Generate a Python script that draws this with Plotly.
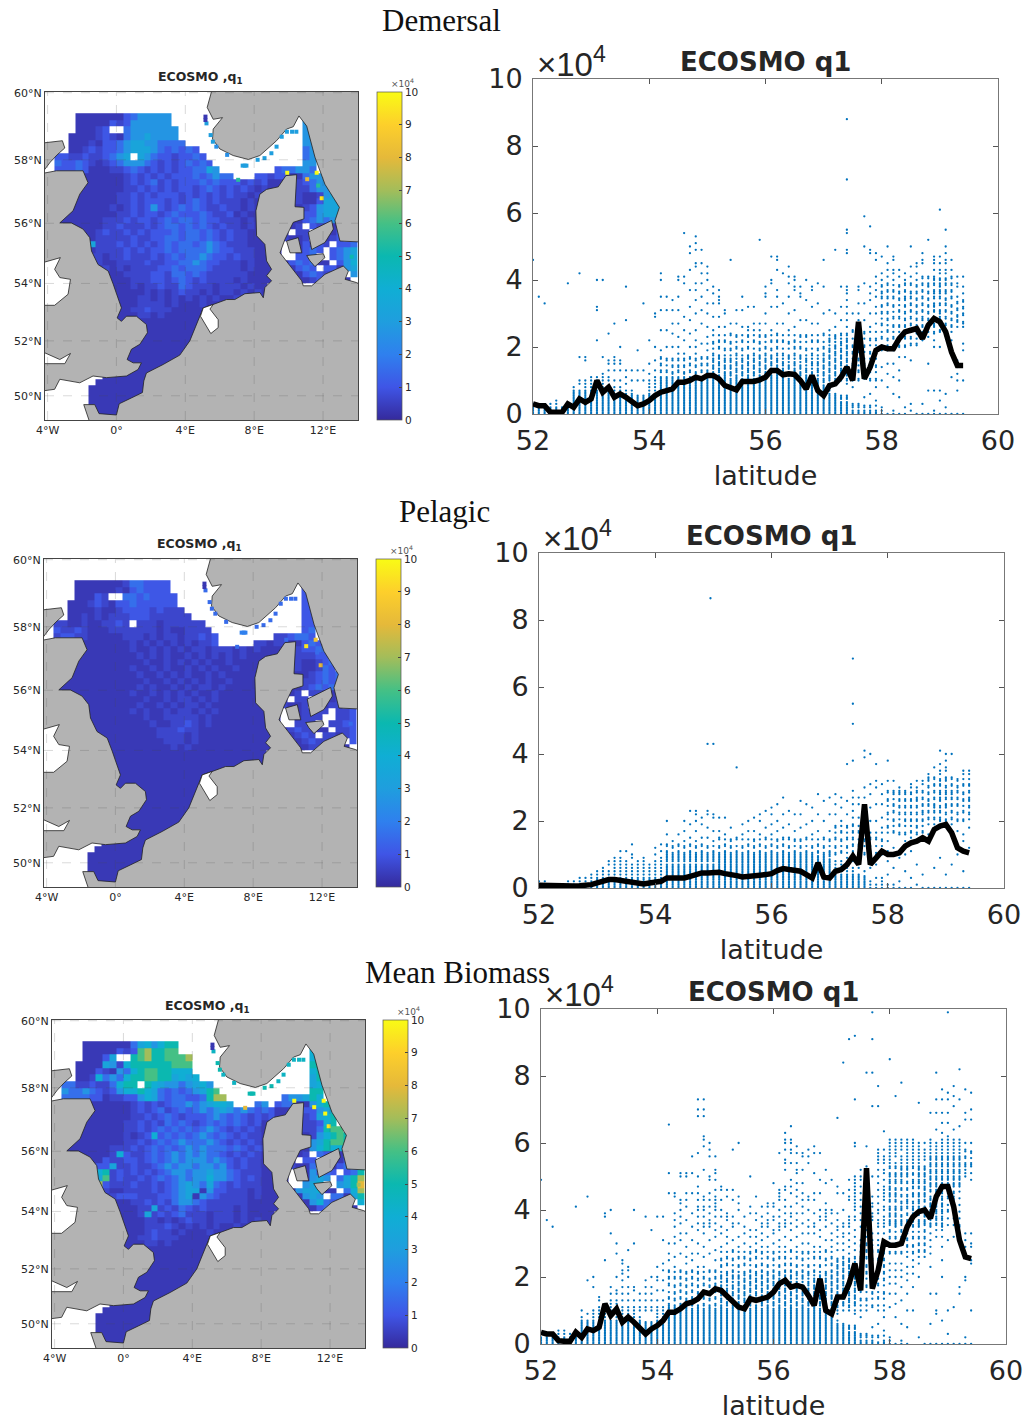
import math
import plotly.graph_objects as go

W, H = 1027, 1421

# ---------- colour levels ----------
HEAT_LEVELS = {'a':.35,'b':.65,'c':1.05,'d':1.6,'e':2.7,'f':3.4,'g':4,'h':5,'i':6,'j':7,'k':8,'l':9,'m':10}
PARULA = [[0,'#352a9c'],[.1,'#3f55e6'],[.2,'#2f80ee'],[.3,'#1f9ede'],[.4,'#10aed4'],[.5,'#0bb8b0'],
          [.6,'#45c085'],[.7,'#a3bd5a'],[.8,'#e5b93a'],[.9,'#fdcf2b'],[1,'#f9fb15']]

# grid of the map cells
CELL_LON_EDGES = [-3.6,-3.2,-2.8,-2.4,-2.0,-1.6,-1.2,-.8,-.4,0,.4,.8,1.2,1.6,2,2.4,2.8,3.2,3.6,4,4.4,4.8,5.2,5.6,6,6.4,6.8,7.2,7.6,8,8.4,8.8,9.2,9.6,10,10.4,10.8,11.2,11.6,12,12.4,12.8,13.2,13.6,14.0]
CELL_LAT_EDGES = [59.4,59.2,59,58.8,58.6,58.4,58.2,58,57.8,57.6,57.4,57.2,57,56.8,56.6,56.4,56.2,56,55.8,55.6,55.4,55.2,55,54.8,54.6,54.4,54.2,54,53.8,53.6,53.4,53.2,53,52.8,52.6,52.4,52.2,52,51.8,51.6,51.4,51.2,51,50.8,50.6,50.4,50.2,50,49.8,49.6,49.4,49.2]

SOUTH_ROWS = ["   aaaaaaaaaaaaaaaaaaaaaaaaaaa"]*9
CHANNEL_ROWS = ["     aaaaaaaaaaaaaaaaaa","       aaaaaaaaaaaaaaaa","      aaaaaaaaaaa"]+["     aaaaaaaaaaa"]*6

DEM_WEST = ["   aaaaaaacdeeeee","   aaaaacbceeeeee","   aaabc  deeeeeee","  aaaabcbadeefeeee","  aaabaccdeffeedddd",
"  aabcbccdefffedcdcdc","ccbbcbbcdef fedccbccdc","dccdcbabcdeeedcbcbcdcdc","cccdcaaabbcdcbcbcbccddfe",
"aaaaaaaaaabcbcbcbcccdcdedd   cc","aaaaaaaaaabcbcdbcbcccdcdcccbcbc","aaaaaaaaaabbcbcbcbccbcdcbcbcbab","aaaaaaaaabbcbcbcccbcbcbcbcbbaba",
"aaaaaaaaabbcbcccbcbcdcbcbbbabaa","aaaaaaaababcbcecbcdcdcbbcbbabaa","aaaaaaaaabbcbccbcdcccdcbbcabaaa","aaaaaaabbbcbccbcdcddcdccbbbabaa",
"aaaaaaabbcbbbcbcddcdcdcbcbbabaa","aaaaaabcbbcbcbcccdcddcdcbcbbaaa","aaaaaabbbbbcbbccddcddcdcbcbbaaa","aaaaafbbbcbcbcbcdcddcdedcbbbaaa",
"aaaaaabbbbcbcbccdcddddedccbbbaa","   aabbabbcbbbcbcdcddedccbcbbaa","   aacbaabbbbcbbccddedccbbbabaa","   aaaabababbbbccdcdddcbbbbabaa",
"   aaaaaaabbbbccbddcdcbbbbbbaaa","   aaaaaaaabbbccbcdcbcbbbbabaaa","   aaaaaaaababbcbbdcbbbabbbabaa","   aaaaaaaaaabababcbbababbababa",
"   aaaaaaaaabbabababababaababab","   aaaaaaaaabbbbabaaabaaaaaaaaa","   aaaaaaaabbcbbbaaaaaaaaaaaaaa","   aaaaaaaaabbabaaaaaaaaaaaaaaa"] + SOUTH_ROWS + CHANNEL_ROWS
DEM_BALTIC = ["","     e","     ee","     ee","     ee","     de","     de","     ee"," cddeed","bccaadee","aaaabcdee","aaaabbdee","aaaabaabef",
"aaaabaacfff","aaaaabcefff","aaaaaccefff","aaaaacdeded","aaaab cbaac","aaa bb aaacc","aabaab aabc","aa aacbcb ccd","aa  acdc cdef","aa  ccd  cdef",
"aaacdcdaa ceg","aaaacdc ccaef","aaaaacdcba  e","aaaaaabcaaaa "]

PEL_WEST = ["   aaaaaaabddcccc","   aaaaaabacdcccc","   aaacb  ddcdcccc","  aaabcbaccdcccccc","  aaaabaabccccbcbbb",
"  aabababbbcccbbbbbb","bbaabaabbcb bbbabbbbbb","cbbcbaaabbbbbbbabaabbbb","bccbbaaaaabbbababbabbcbc",
"aaaaaaaaaaababababababbc     bb","aaaaaaaaaaabaababababbabbbababa","aaaaaaaaaaaabababaabababababaaa","aaaaaaaaaaaaabaababababaabaaaaa",
"aaaaaaaaaaabaababaabababaabaaaa","aaaaaaaaaaaabaabababaababaaaaaa","aaaaaaaaaaaaabaababababaabaaaaa","aaaaaaaaaaaababaabababbabaaaaaa",
"aaaaaaaaaaabaababababaabaaaaaaa","aaaaaaaaaaaaabaababbababaaaaaaa","aaaaaaaaaaaabaabababbabaaaaaaaa","aaaaaaaaaaababaababbababaaaaaaa",
"aaaaaaaaaaaaabaabbbbbabaaaaaaaa","   aaaaaaaaaaabaabbcbabaaaaaaaa","   aaaaaaaaaaaabbbcbbaaaaaaaaaa","   aaaaaaaaaaaabbbbabaaaaaaaaaa",
"   aaaaaaaaaaaaabbbabaaaaaaaaaa","   aaaaaaaaaaaaaababaaaaaaaaaaa"] + ["   aaaaaaaaaaaaaaaaaaaaaaaaaaaa"]*6 + SOUTH_ROWS + CHANNEL_ROWS
PEL_BALTIC = ["","     c","     cc","     cc","     cc","     cc","     cc","     cd"," bbcddc","abbaacdc","aaaabccdd","aaaabbbcc","aaaabaabcd",
"aaaabaabdc","aaaaaabcdcd","aaaaabbcdcd","aaaaabcdcdc","aaaab bbaac","aaa bb aaabb","aabaab aabb","aa aabbbb bbc","aa  abbb  bbc","aa  bbb  bbcc",
"aaabcbbaa bbc","aaaabcb bbabc","aaaaabcbba  c","aaaaaabbaaaa "]

MEAN_WEST = ["   aaaaaaadfgeghh","   aaaaacbcijhhii","   aaacf  hijhhiiij","  aaaafebghhhhhhiii","  aaacbaedghiihhggg",
"  aabgdedghhiihhfgfg","ddbbcbbdghh hgfeedefge","eddedcbcegghgfdcdcdefhi","ddddccabbccegfdcddccdhjj",
"aaaaaaaaaabcbcbcddedefggf   de","aaaaaaaaaabcbcdbcdcdedefededcdc","aaaaaaaaaabbcbcdcbcccdedcdcbcbc","aaaaaaaaabbcbcbdcdcbcdcdcdcbcaa",
"aaaaaaaaabbcbcdcdcdcdedcbcbcbab","aaaaaaaaababcgcdcdcdedcdcbcbbab","aaaaaaaaabbcbcdcdedddedcbcbcbaa","aaaaaaabbbcbcdcdcdededddcdcbcba",
"aaaaaaabgcbbcdcdedededdcbcbcbaa","aaaaaacbbccbcdcdedeeededcbcbbaa","aaaaaccfbbcbbcdedeedeedecbcbbaa","aaaaaghbcbcbcbcdeedeefeedcbbbaa",
"aaaaafibcbbcbcdcdedeegeedcbcbaa","   aajcbbbcbbcbcdefedfdcbcbbbaa","   aaabaabbbbcbcdeffaeccbbbabaa","   aaaabcccbbbccdefaedcbbbbabaa",
"   aaaaaaabbcbcbdeedcbbbbbbaaaa","   aaaaaaaabbfbcbdcbcbbbbabaaaa","   aaaaaaaabfbcbcdbbbabbbabaaaa","   aaaaaaaaabbababcbbabbbababaa",
"   aaaaaaaaabbbcbabababaabababa","   aaaaaaaaabcbbabaaabaaaaaaaaa","   aaaaaaaabbcbbbaaaaaaaaaaaaaa","   aaaaaaaaabbabaaaaaaaaaaaaaaa"] + SOUTH_ROWS + CHANNEL_ROWS
MEAN_BALTIC = ["","     g","     gh","     hh","     gh","     fh","     fg","     hh"," deefhg","cddaaegh","aaaaccefgh","aaaabcfgh","aaaabbcgh",
"aaaabbdhii","aaaaabeghih","aaaaaefhiih","aaaaaeghggf","aaaab dcaae","aaa cc aaacd","aabaad aacd","aa aaecdc cdh","aa  aefe dfhj","aa  efg  efhk",
"aaaeffgaa dgj","aaaaefe ddafh","aaaaaegdcb  g","aaaaaacdaaaa "]

# isolated cells along the coasts (lon, lat) and their value in each map
SPECK_LON = [5.23,5.47,5.6,5.8,6.43,7.33,7.45,7.55,8.2,8.6,9.0,9.3,9.6,9.9,10.2,10.45,9.92,11.63,11.08,11.92,7.07,11.72,13.66,5.17,5.17]
SPECK_LAT = [59.1,58.75,58.55,58.4,58.15,57.82,57.82,57.82,58.0,58.05,58.2,58.4,58.7,58.85,58.85,58.85,57.6,57.6,57.4,56.8,57.38,57.2,54.9,59.3,59.2]
SPECK_DEM = [3,3,3,2.5,2.5,3,3,3,3,3,3,3,3,3,3,3,10,10,8,9.5,5.5,5.5,5,.3,.3]
SPECK_PEL = [1.5,1.5,1.5,1.5,1.5,2,2,2,1.5,1.5,1.5,1.5,1.5,1.5,1.5,1.5,1.5,8.5,9.5,8,1.5,1.5,1.5,.3,.3]
SPECK_MEAN = [4.5,5,5,4.5,4.5,5,5,5,5,5,4.5,4.5,4.5,4.5,4.5,4.5,10,10,10,9.5,8,10,7,.3,.3]

# coast outlines (lon, lat)
CONTINENT = [(-1.55,49.0),(-1.9,49.67),(-1.26,49.67),(-1.01,49.33),(0,49.28),(.16,49.7),(.87,49.92),(1.51,50.12),(1.59,50.55),(1.74,50.84),(2.71,51.15),(3.68,51.49),(4.26,52.0),(4.65,52.58),(4.88,52.87),(5.04,53.16),(5.62,53.28),(6.4,53.45),(6.88,53.45),(7.46,53.65),(8.33,53.69),(8.53,53.51),(8.62,53.86),(9.01,54.09),(8.72,54.26),(9.01,54.48),(8.72,54.76),(8.62,55.31),(8.14,55.59),(8.1,56.4),(8.33,56.93),(8.72,57.08),(9.4,57.16),(9.84,57.51),(10.47,57.54),(10.37,56.53),(10.89,56.51),(10.89,56.14),(10.27,56.03),(9.79,55.48),(9.5,55.03),(10.17,54.53),(10.76,54.09),(10.85,53.92),(11.34,53.92),(12.11,54.31),(13.18,54.59),(13.47,54.42),(13.28,54.14),(13.95,54.03),(14.1,53.98),(14.1,49.0)]
SCANDINAVIA = [(5.56,60.1),(5.27,59.57),(5.62,59.22),(6.16,59.27),(5.62,58.93),(5.58,58.63),(6.01,58.33),(6.78,58.13),(7.66,58.01),(8.33,58.13),(9.3,58.58),(9.88,58.93),(10.27,59.0),(10.6,59.32),(11.05,59.02),(11.53,58.08),(12.11,57.24),(12.95,56.51),(12.69,56.08),(12.98,55.42),(14.1,55.39),(14.1,60.1)]
BRITAIN = [(-4.3,57.58),(-3.49,57.66),(-1.94,57.66),(-1.65,57.29),(-2.13,56.93),(-2.52,56.4),(-3.29,56.01),(-2.62,56.01),(-1.94,55.81),(-1.55,55.53),(-1.45,55.09),(-1.07,54.64),(-.48,54.42),(-.19,53.98),(.29,53.16),(.04,52.81),(.29,52.69),(.58,52.87),(1.16,52.87),(1.74,52.58),(1.8,52.29),(1.36,51.88),(.87,51.7),(.62,51.33),(.97,51.21),(1.45,51.21),(1.26,50.97),(.58,50.73),(-.58,50.67),(-1.36,50.73),(-2.13,50.48),(-3.29,50.61),(-3.59,50.24),(-4.3,50.18),(-4.3,51.18),(-3.0,51.18),(-2.67,51.55),(-3.29,51.33),(-4.3,51.61),(-4.3,53.25),(-3.59,53.25),(-2.81,53.63),(-2.67,54.14),(-3.29,54.2),(-3.59,54.48),(-3.26,54.87),(-4.3,54.7)]
HIGHLANDS = [(-4.3,58.51),(-3.14,58.58),(-3.0,58.36),(-3.45,58.15),(-3.84,57.93),(-4.3,57.61)]
FUNEN = [(9.88,55.42),(10.56,55.53),(10.76,55.03),(10.08,55.03)]
ZEALAND = [(11.14,55.71),(12.5,56.09),(12.6,55.81),(12.11,55.37),(11.34,55.14)]
LOLLAND = [(11.05,54.94),(12.02,55.0),(12.11,54.87),(11.53,54.57),(11.24,54.76)]
IJSSEL = [(4.88,52.87),(5.04,53.16),(5.62,53.28),(5.43,53.12),(5.91,52.75),(5.91,52.47),(5.48,52.26),(5.14,52.58)]
LAND_SHAPES = [CONTINENT, SCANDINAVIA, BRITAIN, HIGHLANDS, FUNEN, ZEALAND, LOLLAND]

GRID_LON = [-4,0,4,8,12]
GRID_LAT = [50,52,54,56,58,60]
LON_LABELS = ['4°W','0°','4°E','8°E','12°E']
LAT_LABELS = ['50°N','52°N','54°N','56°N','58°N','60°N']
COLORBAR_TICKS = [0,1,2,3,4,5,6,7,8,9,10]

# ---------- scatter values: each character is one dot of that latitude column ----------
DOT_CODES = '0123456789ABCDEFGHIJKLMNOPQRSTUVWXYZabcdefghijklmnopqrstuvwxyz'
LATITUDES = [52.0,52.1,52.2,52.3,52.4,52.5,52.6,52.7,52.8,52.9,53.0,53.1,53.2,53.3,53.4,53.5,53.6,53.7,53.8,53.9,54.0,54.1,54.2,54.3,54.4,54.5,54.6,54.7,54.8,54.9,55.0,55.1,55.2,55.3,55.4,55.5,55.6,55.7,55.8,55.9,56.0,56.1,56.2,56.3,56.4,56.5,56.6,56.7,56.8,56.9,57.0,57.1,57.2,57.3,57.4,57.5,57.6,57.7,57.8,57.9,58.0,58.1,58.2,58.3,58.4,58.5,58.6,58.7,58.8,58.9,59.0,59.1,59.2,59.3,59.4]

DEM_COLS = ["0123k","012Z","012X","0123","01234","012","0123d","012345678","012345679AHg","0123456789AGH","0123456789AB","0123456789ABMVWe","0123456789ABCHe","012345678ABDFGO","012345678ADFGHR","012345678ADFGK","012345679BDSc","01234567AD","012345ADJ","012345ADX","0123456789ACFM","0123456789ABDGKTU",
"0123456789ABDFHJPVZeg","0123456789ABDGKPVZ","0123456789ABCEGKORVY","0123456789ABDEGIKNRVZef","0123456789ABCEGIMPTdfs","0123456789ABDFHKOSWbhmo","0123456789ABCEGIKMPUYbdijnpr","0123456789ABDFHLRVZdgjn","0123456789ABCDFHJLNQUXbegi","0123456789ABCEGILPTXac","0123456789ABDFHKMQTXYZb","0123456789ABCEGJMQUV","0123456789ACEGJLORk","0123456789ABDFIKNRV","0123456789ACEGJMQVZ","0123456789ABDFHKNPQW","0123456789ACEGIMPRW","0123456789ABDFHJLNPRq","0123456789ACEGIKNRUZac","0123456789ABDFHJMPWdel","0123456789ABCEGIKMORWZbhkl","0123456789ABDFIMRXg","0123456789ACEHLPUZdfi","0123456789ABDFIKMQVbcef","0123456789ACEHKNSZac","0123456789ABDGJNSYe","0123456789ACFIMRWbc","0123456789ADFJMRXd","012345678ACEGIKOUck","012345679ABDFHJMPV","0123456ACEGIKNQUn","01235ABDFHJLOSWc","012359ACEGIKMOQSUWYabcmnst","01238ABDFIKPU","0123ADGJMPSUXbc","0125BFKOSXdox","0126AEIMQUYacmnu","0148AEIMRUWZbdfkm","012AEJNRUWZacegl","08CFJMPSUXZbdfhjo","016BFJNQTWZbeghkl","05ADHKNQTVYacfh","02HKNQSUWYZbdeg","13GLNPRTVXZadfio","0LOQSUWYacegij","03MOQSTVXZbdfjkm","07FNQSUWYacdfq","017KMOQRTVWXZabdefhjkl","047KPRTUVXZabcdeghjlz","026RTVXYabdeghjkmot","0BMQSUWZbdfhk","07ACEGQSTVXZcdf","0AJLQRUWYacf"]
DEM_HALF = ["01"]*7+["0123456"]*7+["012345"]*8+["0123456789ACEG"]*9+["0123456789ABCDEFGHJLN"]*20+["012345ABCDEFGHIJKLMN"]*4+["02ACEGIKMO"]*5+["KMOQSUWYac"]*7+["OQSUWYace"]*6+["RTVX"]*2
DEM_EXTRA_LAT = [57.4,57.4]
DEM_EXTRA_VAL = [7.0,8.8]
DEM_MEAN = [.3,.25,.25,.05,.05,.05,.3,.2,.45,.35,.45,1.0,.65,.8,.5,.6,.5,.35,.25,.3,.4,.55,.65,.7,.75,.95,.95,1.0,1.1,1.05,1.15,1.15,1.05,.85,.8,.72,.97,.95,.97,1.02,1.1,1.3,1.3,1.17,1.2,1.18,1.0,.75,1.15,.7,.55,.85,.9,1.1,1.4,1.0,2.75,1.05,1.4,1.9,2.0,1.95,1.95,2.25,2.45,2.5,2.55,2.25,2.65,2.85,2.75,2.45,1.85,1.45,1.45]

PEL_COLS = ["012","012","01","01","01","012","012","0123","0123","01234","012345","0123456","01234578","0123456789","0123456789B","012345678B","012345679AD","012345678","0123456789","01234567","012345678AC","0123456789BD",
"0123456789ABDGK","0123456789ACE","0123456789ABDG","0123456789ACEHK","0123456789ABDFJN","0123456789ACEHKMN","0123456789ABDFJL","0123456789ACFIMNh","0123456789ABEHLMh","0123456789ACFHL","0123456789ABDGL","0123456789ACEI","0123456789ABFa","0123456789ACGJ","0123456789ABDHK","0123456789ACEHL","0123456789ABDGKM","0123456789ACFIN","0123456789ABDGJMO","0123456789ACEHKP","0123456789ABDFIMR","0123456789ACFJN","0123456789ABEHM","0123456789ACEIMQ","0123456789ABFJP","0123456789ACGKO","0123456789BDHMS","0123456789ACFKQ","012345678ABEHMR","012345678ACFIMPS","012345678BEHKOR","012345679CFIMQb","01234568ABDFHJLNPRTcnt","012346ADHLPR","01235AEHMRUdf","01269BFKOSVe","0137AFKPUWb","0123AEILPSV","0148BEIMQTWc","016CHKNPSTW","029BGJMOQSTU","05AEGKMOQST","03BFHKMOQSUV","17EGIKMOQRTUW","04FHKMNPRTVW","0GJLNPQSUWXY","06HJLNOPRTVXa","09IKLNOQRSTVWYZbf","04KMOPRSTUWXZace","07JLNPRSTVXe","0AHKMPRTUW","05EGKNQSVYZ","0CIMOQRTVYZ"]
PEL_HALF = [""]*10+["012"]*12+["012345689AC"]*9+["0123456789ACE"]*20+["0123ACEGI"]*6+["ACEG"]*3+["GIKMOQS"]*7+["KMOQSUW"]*8
PEL_EXTRA_LAT = [54.95,57.4]
PEL_EXTRA_VAL = [8.65,6.85]
PEL_MEAN = [.08,.07,.06,.05,.05,.05,.06,.07,.08,.1,.15,.2,.25,.25,.22,.2,.18,.15,.12,.15,.17,.2,.3,.3,.28,.3,.35,.4,.45,.45,.48,.47,.43,.38,.37,.33,.36,.35,.38,.4,.43,.52,.58,.55,.53,.5,.4,.3,.75,.33,.3,.5,.55,.7,.95,.7,2.5,.7,.9,1.1,1.0,1.0,1.05,1.25,1.35,1.4,1.5,1.4,1.75,1.85,1.9,1.65,1.2,1.1,1.05]

MEAN_COLS = ["0123n","012b","012Z","01234","01234","0123","0123f","012345678A","012345679Ji","0123456789AKH","0123456789ABDE","0123456789ABCPcd","0123456789ABCDFHXe","0123456789ABCDFGKRU","0123456789ABDFHJLMOP","0123456789ABDFHKMNS","0123456789ABDGHUe","012345678ABDF","0123456ABDFHJc","0123456ABDFHKY","0123456789ABDGJKNc","0123456789ABDGJMOVc","0123456789ABCEIKMPRUjp",
"0123456789ABDFHKNQUWZbdij","0123456789ACEGIKMRVXaceghop","0123456789ABDFHJLOQTXbfhjop","0123456789ACEGIKMPRVZdjpu","0123456789ABDFHJLNRUYacefhjlov","0123456789ACEGIKNQTXZacefhiqx","0123456789ABDFHJMRVZabdfhjnouwy","0123456789ACEGIKMPSWYacefghiknpqu","0123456789ABDFHKNPTXZcehkl","0123456789ACEGJLOQUWYbcdik","0123456789ABDFHKMPSVZachkw","0123456789ACEGIKNQTWaegiy","0123456789ABDFHJLOQUXZc","0123456789ACEGIKMPRTWYdfo","0123456789ABDFHJLNQSUWYbdi","0123456789ACEGIKMORTVXZacf","0123456789ABDFHJLNQTWZabdfg","0123456789ACEGIKMPRUXYbcfgm","0123456789ABDFHJLNQTVYZacehijkv","0123456789ACEGIKMOQTWZabdfhklqstwyz","0123456789ABDFHKMOSVYacdfjlnsvwyz","0123456789ACEGILNQTWZbdgikmpqsvx","0123456789ABDFHKMPRUXadfhjmquv","0123456789ACEGILNRUXZbehisuw","0123456789ABDFHJMQTXZadhjpvx","0123456789ACEGKNQTWYbcejnv","0123456789ABDFHJLPSVZbcdegmq","012345678ACEGIKMOQTVXaden","012345679ABDFHJLNPSUWYZbdjl","0123456ACEGIKMOQSUWXZaej","01235ABDFHJLNPRTVXZabchikn","012359ACEGIKMOQSUWYbcefghijklmnoxy","01238ADGIKMOQTVZbdfhjlnoq","0123ADHLNQSUWYabdefghiklmorx","0125BFJLNPSVXbcdfgio","026AEIMPSVXZabdegikmoqstuvw","0148AFJLNPRTVXZabcefhijklnpqstuw","012BFIKMORUWYabcdefhijklmnoprstuvwxyz","08CFIKMORUWZabcdefhijkmnoprsuvwxyz","016DHKMORUWYabcefgikmnopqrstuwxyz","05AFJLNQTVXZabdfghikmopqrstuvwxyz","AHLNPRTWZbcdefgijlmnprstuvwxyz","2KOQSUWZabdefghijlmnopqrstuvwxy","0QSUWYabcdefhijklmnopqrtuvwy","06FNRTVXZabdefghiklmnopqrstuvwxyz","09AFWYabcdefghijklmnopqrstuvwxy","07KPTWYZabcdefghijklmnopqrstuvwxyz","03AVeijklmnopqrstuvwxyz","0BWhijlmnopqrstuvwxyz","0FHZlmnopqrstuvwxyz","02JKTVXopqrsuwy","0AOPTUXnprsvy"]
MEAN_HALF = ["01"]*7+["0123456"]*15+["0123456789ABDFHJL"]*9+["0123456789ABCDEFGHIJKLNPR"]*20+["012345BCDEFGHIJKLMNOP"]*4+["02BDFHJLNPRT"]*5+["RTVXZacegikmoq"]*7+["Zbdfhjlnprt"]*6+["rtv"]*2
MEAN_EXTRA_LAT = [54.7,54.7,54.7,54.8,54.8,54.8,54.8,54.8,54.2,56.2,56.3,57.2,57.3,57.4,57.4,57.6,57.7,57.7,57.7,57.7,57.8,57.8,58.0,58.1,58.2,58.5,58.7,58.8,58.8,58.8,58.8,58.9,58.9,58.9,58.9,58.9,59.0,59.0,59.0,59.0,59.0,59.0,59.1,59.1,59.1,59.1,59.2,59.2,59.2,59.3,59.3,59.3,59.4,59.4,59.4,57.1,57.9]
MEAN_EXTRA_VAL = [6.8,7.0,7.3,6.2,6.1,6.8,7.0,7.3,6.55,6.3,6.5,8.4,9.1,7.3,9.2,8.1,7.1,8.1,9.1,9.9,7.1,7.7,8.5,7.4,7.8,7.2,6.9,6.4,6.9,7.3,8.1,6.3,6.6,6.9,7.3,7.6,6.2,6.6,6.9,7.3,7.5,9.9,6.4,7.1,7.4,7.7,6.5,7.3,8.2,6.7,6.9,7.6,6.7,7.0,7.5,6.75,6.35]
MEAN_MEAN = [.35,.3,.3,.1,.08,.08,.35,.2,.45,.4,.5,1.2,.85,1.05,.65,.8,.65,.45,.3,.45,.55,.7,.95,.95,1.05,1.2,1.25,1.35,1.55,1.5,1.65,1.6,1.45,1.25,1.1,1.05,1.35,1.3,1.35,1.4,1.55,1.8,1.9,1.7,1.75,1.7,1.45,1.15,1.95,1.0,.9,1.4,1.4,1.8,2.4,1.6,5.25,1.65,2.2,3.05,2.95,2.95,3.0,3.5,3.8,3.95,4.0,3.75,4.4,4.7,4.7,4.1,3.1,2.6,2.55]

X_TICKS = [52,54,56,58,60]
Y_TICKS = [0,2,4,6,8,10]

# ---------- page layout (pixels) ----------
PANELS = [
 dict(label='Demersal', lx=441, ly=21, map=(45,358,92,420), cb=377, scat=(533,998,79,414),
      west=DEM_WEST, baltic=DEM_BALTIC, speck=SPECK_DEM, cols=DEM_COLS, half=DEM_HALF, xl=DEM_EXTRA_LAT, xv=DEM_EXTRA_VAL, mean=DEM_MEAN),
 dict(label='Pelagic', lx=444, ly=511, map=(44,357,559,887), cb=376, scat=(539,1004,553,888),
      west=PEL_WEST, baltic=PEL_BALTIC, speck=SPECK_PEL, cols=PEL_COLS, half=PEL_HALF, xl=PEL_EXTRA_LAT, xv=PEL_EXTRA_VAL, mean=PEL_MEAN),
 dict(label='Mean Biomass', lx=457, ly=972, map=(52,365,1020,1348), cb=383, scat=(541,1006,1009,1344),
      west=MEAN_WEST, baltic=MEAN_BALTIC, speck=SPECK_MEAN, cols=MEAN_COLS, half=MEAN_HALF, xl=MEAN_EXTRA_LAT, xv=MEAN_EXTRA_VAL, mean=MEAN_MEAN),
]

def merc(lat):
    return math.degrees(math.log(math.tan(math.pi/4 + math.radians(lat)/2)))

MAP_LON_RANGE = [-4.15, 14.03]
MAP_LAT_RANGE = [49.09, 60.02]
FONT = 'DejaVu Sans'
TXT = '#262626'

fig = go.Figure()
annotations = []
layout = {}

def note(text, x, y, size, family=FONT, color=TXT, xanchor='center'):
    annotations.append(dict(text=text, x=x/W, y=1-y/H, xref='paper', yref='paper', showarrow=False,
                            xanchor=xanchor, yanchor='middle', font=dict(size=size, family=family, color=color)))

def cell(ch):
    return HEAT_LEVELS.get(ch)

for i, p in enumerate(PANELS):
    mx, sx = 2*i+1, 2*i+2
    x0, x1, y0, y1 = p['map']
    xa, ya = f'x{mx}', f'y{mx}'
    rows = []
    for r in range(len(CELL_LAT_EDGES)-1):
        w = (p['west'][r] if r < len(p['west']) else '').ljust(31)[:31]
        b = (p['baltic'][r] if r < len(p['baltic']) else '').ljust(13)[:13]
        rows.append([cell(c) for c in w+b])
    rows = rows[::-1]
    yedges = [merc(v) for v in CELL_LAT_EDGES[::-1]]
    fig.add_trace(go.Heatmap(z=rows, x=CELL_LON_EDGES, y=yedges, xaxis=xa, yaxis=ya, zmin=0, zmax=10,
        colorscale=PARULA, hoverongaps=False, hoverinfo='skip', showscale=True,
        colorbar=dict(x=p['cb']/W, xanchor='left', xpad=0, ypad=0, y=1-y0/H, yanchor='top', len=y1-y0, lenmode='pixels',
                      thickness=25, thicknessmode='pixels', tickvals=COLORBAR_TICKS, ticks='inside', ticklen=3,
                      tickcolor='#444', outlinecolor='#555', outlinewidth=.7,
                      tickfont=dict(size=10.5, family=FONT, color=TXT))))
    for shape in LAND_SHAPES:
        fig.add_trace(go.Scatter(x=[q[0] for q in shape]+[shape[0][0]], y=[merc(q[1]) for q in shape]+[merc(shape[0][1])],
            mode='lines', fill='toself', fillcolor='#b3b3b3', line=dict(color='#222', width=.8),
            xaxis=xa, yaxis=ya, hoverinfo='skip', showlegend=False))
    fig.add_trace(go.Scatter(x=[q[0] for q in IJSSEL]+[IJSSEL[0][0]], y=[merc(q[1]) for q in IJSSEL]+[merc(IJSSEL[0][1])],
        mode='lines', fill='toself', fillcolor='white', line=dict(color='#222', width=.8),
        xaxis=xa, yaxis=ya, hoverinfo='skip', showlegend=False))
    fig.add_trace(go.Scatter(x=SPECK_LON, y=[merc(v) for v in SPECK_LAT], mode='markers', xaxis=xa, yaxis=ya,
        marker=dict(symbol='square', size=4, color=p['speck'], colorscale=PARULA, cmin=0, cmax=10, line=dict(width=0)),
        hoverinfo='skip', showlegend=False))
    # dashed graticule over everything
    gx, gy = [], []
    for lon in GRID_LON:
        gx += [lon, lon, None]; gy += [merc(MAP_LAT_RANGE[0]), merc(MAP_LAT_RANGE[1]), None]
    for lat in GRID_LAT:
        gx += [MAP_LON_RANGE[0], MAP_LON_RANGE[1], None]; gy += [merc(lat), merc(lat), None]
    fig.add_trace(go.Scatter(x=gx, y=gy, mode='lines', line=dict(color='rgba(70,70,70,0.3)', width=.7, dash='dash'),
        xaxis=xa, yaxis=ya, hoverinfo='skip', showlegend=False))
    layout[f'xaxis{mx}'] = dict(domain=[x0/W, x1/W], range=MAP_LON_RANGE, anchor=ya, tickvals=GRID_LON, ticktext=LON_LABELS,
        showgrid=False, zeroline=False, showline=True, mirror=True, linecolor='#444', linewidth=1, ticks='',
        tickfont=dict(size=11, family=FONT, color=TXT))
    layout[f'yaxis{mx}'] = dict(domain=[1-y1/H, 1-y0/H], range=[merc(v) for v in MAP_LAT_RANGE], anchor=xa,
        tickvals=[merc(v) for v in GRID_LAT], ticktext=LAT_LABELS,
        showgrid=False, zeroline=False, showline=True, mirror=True, linecolor='#444', linewidth=1, ticks='',
        tickfont=dict(size=11, family=FONT, color=TXT))
    note('<b>ECOSMO ,q<sub>1</sub></b>', (x0+x1)/2-1, y0-14, 12.5)
    note('×10<sup>4</sup>', p['cb']+25, y0-9, 9, color='#555')

    # ---------- scatter ----------
    sx0, sx1, sy0, sy1 = p['scat']
    xs, ys = [], []
    for lat, col, half in zip(LATITUDES, p['cols'], p['half']):
        for ch in col:
            xs.append(lat); ys.append(DOT_CODES.index(ch)/10)
        for ch in half:
            xs.append(lat); ys.append(DOT_CODES.index(ch)/10 + .05)
    xs += p['xl']; ys += p['xv']
    fig.add_trace(go.Scatter(x=xs, y=ys, mode='markers', xaxis=f'x{sx}', yaxis=f'y{sx}',
        marker=dict(size=2.3, color='#0072bd', line=dict(width=0)), hoverinfo='skip', showlegend=False))
    fig.add_trace(go.Scatter(x=LATITUDES, y=p['mean'], mode='lines', xaxis=f'x{sx}', yaxis=f'y{sx}',
        line=dict(color='black', width=5.5), hoverinfo='skip', showlegend=False))
    layout[f'xaxis{sx}'] = dict(domain=[sx0/W, sx1/W], range=[52,60], anchor=f'y{sx}', tickvals=X_TICKS,
        showgrid=False, zeroline=False, showline=True, mirror='ticks', linecolor='#777', linewidth=1, ticks='inside', ticklen=5,
        tickcolor='#555', tickfont=dict(size=27, family=FONT, color=TXT), ticklabelstandoff=3,
        title=dict(text='latitude', font=dict(size=27, family=FONT, color=TXT), standoff=10))
    layout[f'yaxis{sx}'] = dict(domain=[1-sy1/H, 1-sy0/H], range=[0,10], anchor=f'x{sx}', tickvals=Y_TICKS,
        showgrid=False, zeroline=False, showline=True, mirror='ticks', linecolor='#777', linewidth=1, ticks='inside', ticklen=5,
        tickcolor='#555', tickfont=dict(size=27, family=FONT, color=TXT), ticklabelstandoff=4)
    note('<b>ECOSMO q1</b>', (sx0+sx1)/2, sy0-17, 26)
    note('×10<sup>4</sup>', sx0+2, sy0-17, 33, family='Liberation Sans', xanchor='left')
    note(p['label'], p['lx'], p['ly'], 31, family='Liberation Serif', color='#111')

fig.update_layout(width=W, height=H, margin=dict(l=0, r=0, t=0, b=0, autoexpand=False), paper_bgcolor='white', plot_bgcolor='white',
                  showlegend=False, annotations=annotations, **layout)
fig.write_html("out.html", config={'displayModeBar': False}, post_script="document.body.style.margin='0';")
